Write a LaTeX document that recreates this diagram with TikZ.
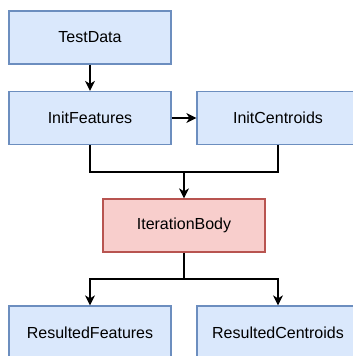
\documentclass[tikz,border=0pt]{standalone}
\usepackage{fontspec}
\setmainfont{Liberation Sans}
\usetikzlibrary{arrows.meta}
\definecolor{bfill}{HTML}{DAE8FC}
\definecolor{bdraw}{HTML}{6C8EBF}
\definecolor{rfill}{HTML}{F8CECC}
\definecolor{rdraw}{HTML}{B85450}
\begin{document}
\begin{tikzpicture}[x=1pt,y=-1pt,
  box/.style={rectangle,minimum width=162pt,minimum height=53pt,inner sep=0pt,line width=1.3pt,font=\fontsize{16}{19}\selectfont},
  bluebox/.style={box,fill=bfill,draw=bdraw},
  redbox/.style={box,fill=rfill,draw=rdraw},
  conn/.style={line width=1.3pt,draw=black},
  arr/.style={conn,-{Stealth[length=10pt,width=10pt,inset=3pt]}}]
\clip (0,0) rectangle (353,356);
\fill[white] (0,0) rectangle (353,356);
\node[bluebox] (td) at (90,37.5) {TestData};
\node[bluebox] (if) at (90,118) {InitFeatures};
\node[bluebox] (ic) at (278,118) {InitCentroids};
\node[redbox] (ib) at (184,225.5) {IterationBody};
\node[bluebox] (rf) at (90,332.5) {ResultedFeatures};
\node[bluebox] (rc) at (278,332.5) {ResultedCentroids};
\coordinate (j1) at (184,172);
\coordinate (j2) at (184,279);
\draw[arr] (td) -- (if);
\draw[arr] (if) -- (ic);
\draw[conn] (if.south) |- (j1);
\draw[conn] (ic.south) |- (j1);
\draw[arr] (j1) -- (ib);
\draw[conn] (ib) -- (j2);
\draw[arr] (j2) -| (rf.north);
\draw[arr] (j2) -| (rc.north);
\end{tikzpicture}
\end{document}
